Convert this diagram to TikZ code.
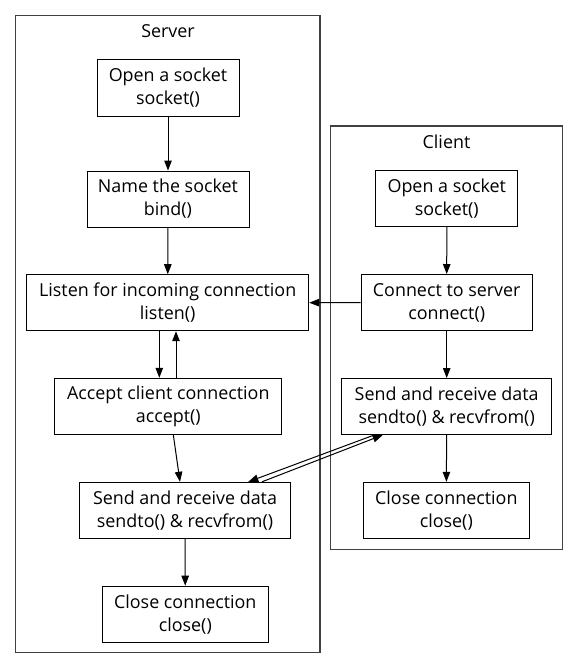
\documentclass[tikz,border=0pt]{standalone}
\usepackage{fontspec}
\setmainfont{Open Sans}
\usetikzlibrary{arrows.meta,positioning}
\tikzset{
  >={Triangle[length=10pt,width=7.5pt]},
  every picture/.style={line cap=butt, line join=miter},
  every node/.style={font=\fontsize{17.9}{23}\selectfont, text=black},
  stage/.style={
    draw=black,
    line width=1pt,
    align=center,
    minimum height=56pt,
    minimum width=#1,
    inner xsep=6pt,
    inner ysep=0pt
  },
  cluster/.style={draw=black!75, line width=1.3pt},
  clusterlabel/.style={inner sep=0pt},
  flow/.style={->, line width=1pt, draw=black}
}

\begin{document}
\begin{tikzpicture}[x=1pt, y=-1pt]
  \useasboundingbox (0,0) rectangle (579,669);

  % Clusters
  \draw[cluster] (15.7,15.3) rectangle (320,652.3);
  \draw[cluster] (330.7,126) rectangle (562.3,549.3);
  \node[clusterlabel] (srvlabel) at (168,31) {Server};
  \node[clusterlabel] (clilabel) at (446.5,142) {Client};

  % Server nodes
  \node[stage=142pt] (srvsock) at (168,88) {Open a socket\\socket()};
  \node[stage=162pt] (srvbind) at (168,199) {Name the socket\\bind()};
  \node[stage=282pt] (srvlisten) at (167.7,302.7) {Listen for incoming connection\\listen()};
  \node[stage=227pt] (srvaccept) at (168.3,406.3) {Accept client connection\\accept()};
  \node[stage=211pt] (srvsend) at (185,510.3) {Send and receive data\\sendto() \& recvfrom()};
  \node[stage=166pt] (srvclose) at (185.3,614.2) {Close connection\\close()};

  % Client nodes
  \node[stage=142pt] (clisock) at (446.8,198.3) {Open a socket\\socket()};
  \node[stage=171pt] (cliconnect) at (446.7,302.5) {Connect to server\\connect()};
  \node[stage=210pt] (clisend) at (446.7,406.5) {Send and receive data\\sendto() \& recvfrom()};
  \node[stage=166pt] (cliclose) at (446.3,510.3) {Close connection\\close()};

  % Server flow
  \draw[flow] (srvsock) -- (srvbind);
  \draw[flow] (srvbind) -- (srvlisten);
  \draw[flow] ([xshift=-8.4pt]srvlisten.south) -- ([xshift=-9pt]srvaccept.north);
  \draw[flow] ([xshift=7.7pt]srvaccept.north) -- ([xshift=8.3pt]srvlisten.south);
  \draw[flow] ([xshift=5pt]srvaccept.south) -- ([xshift=-5pt]srvsend.north);
  \draw[flow] (srvsend) -- (srvclose);

  % Client flow
  \draw[flow] (clisock) -- (cliconnect);
  \draw[flow] (cliconnect) -- (clisend);
  \draw[flow] (clisend) -- (cliclose);

  % Between server and client
  \draw[flow] (cliconnect.west) -- (srvlisten.east);
  \draw[flow] ([xshift=-29pt]srvsend.north east) -- ([xshift=41.5pt]clisend.south west);
  \draw[flow] ([xshift=33pt]clisend.south west) -- ([xshift=-42.7pt]srvsend.north east);
\end{tikzpicture}
\end{document}
